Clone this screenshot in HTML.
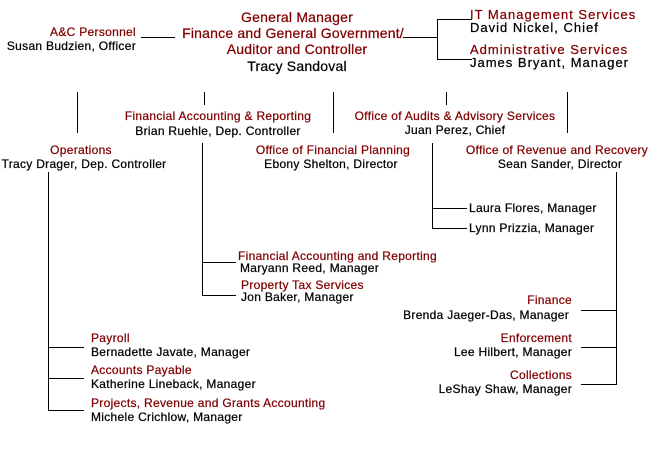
<!DOCTYPE html>
<html><head><meta charset="utf-8"><style>
body{margin:0;background:#fff;}
#c{position:relative;width:650px;height:466px;overflow:hidden;font-family:"Liberation Sans",Arial,sans-serif;font-size:12px;letter-spacing:0.3px;color:#000;-webkit-text-stroke:0.25px;}
.t{position:absolute;white-space:nowrap;line-height:14px;}
.r{color:#800000;}
.cx{transform:translateX(-50%);text-align:center;}
.rx{transform:translateX(-100%);text-align:right;}
.b{font-size:14px;line-height:16px;letter-spacing:0.2px;}
.it{font-size:13px;letter-spacing:1px;}
svg{position:absolute;left:0;top:0;}
</style></head><body><div id="c">
<svg width="650" height="466"><g stroke="#000" stroke-width="1" fill="none" shape-rendering="crispEdges">
<line x1="141" y1="37.5" x2="175" y2="37.5"/>
<line x1="403" y1="37.5" x2="437" y2="37.5"/>
<line x1="437.5" y1="19" x2="437.5" y2="60"/>
<line x1="437" y1="19.5" x2="472" y2="19.5"/>
<line x1="437" y1="59.5" x2="472" y2="59.5"/>
<line x1="77.5" y1="92" x2="77.5" y2="133"/>
<line x1="204.5" y1="92" x2="204.5" y2="105"/>
<line x1="333.5" y1="92" x2="333.5" y2="133"/>
<line x1="446.5" y1="92" x2="446.5" y2="105"/>
<line x1="567.5" y1="92" x2="567.5" y2="133"/>
<line x1="202.5" y1="143" x2="202.5" y2="296"/>
<line x1="202" y1="262.5" x2="236" y2="262.5"/>
<line x1="202" y1="295.5" x2="236" y2="295.5"/>
<line x1="432.5" y1="143" x2="432.5" y2="229"/>
<line x1="432" y1="208.5" x2="467" y2="208.5"/>
<line x1="432" y1="228.5" x2="467" y2="228.5"/>
<line x1="616.5" y1="172" x2="616.5" y2="385"/>
<line x1="581" y1="310.5" x2="617" y2="310.5"/>
<line x1="581" y1="347.5" x2="617" y2="347.5"/>
<line x1="581" y1="384.5" x2="617" y2="384.5"/>
<line x1="48.5" y1="172" x2="48.5" y2="411"/>
<line x1="48" y1="347.5" x2="84" y2="347.5"/>
<line x1="48" y1="378.5" x2="84" y2="378.5"/>
<line x1="48" y1="410.5" x2="84" y2="410.5"/>
</g></svg>
<div class="t r b cx" style="left:297px;top:9px">General Manager</div>
<div class="t r b cx" style="left:293px;top:25px">Finance and General Government/</div>
<div class="t r b cx" style="left:297px;top:41px">Auditor and Controller</div>
<div class="t b cx" style="left:297px;top:58px">Tracy Sandoval</div>
<div class="t r rx" style="left:136px;top:25px">A&amp;C Personnel</div>
<div class="t rx" style="left:136px;top:39px">Susan Budzien, Officer</div>
<div class="t r it" style="left:470px;top:8px">IT Management Services</div>
<div class="t it" style="left:470px;top:21px">David Nickel, Chief</div>
<div class="t r it" style="left:470px;top:43px">Administrative Services</div>
<div class="t it" style="left:470px;top:56px">James Bryant, Manager</div>
<div class="t r cx" style="left:218px;top:109px">Financial Accounting &amp; Reporting</div>
<div class="t cx" style="left:218px;top:124px">Brian Ruehle, Dep. Controller</div>
<div class="t r cx" style="left:455px;top:109px">Office of Audits &amp; Advisory Services</div>
<div class="t cx" style="left:455px;top:123px">Juan Perez, Chief</div>
<div class="t r cx" style="left:81px;top:143px">Operations</div>
<div class="t cx" style="left:84px;top:157px">Tracy Drager, Dep. Controller</div>
<div class="t r cx" style="left:333px;top:143px">Office of Financial Planning</div>
<div class="t cx" style="left:331px;top:157px">Ebony Shelton, Director</div>
<div class="t r cx" style="left:557px;top:143px">Office of Revenue and Recovery</div>
<div class="t cx" style="left:560px;top:157px">Sean Sander, Director</div>
<div class="t" style="left:469px;top:201px">Laura Flores, Manager</div>
<div class="t" style="left:469px;top:221px">Lynn Prizzia, Manager</div>
<div class="t r" style="left:238px;top:249px">Financial Accounting and Reporting</div>
<div class="t" style="left:240px;top:261px">Maryann Reed, Manager</div>
<div class="t r" style="left:241px;top:278px">Property Tax Services</div>
<div class="t" style="left:241px;top:290px">Jon Baker, Manager</div>
<div class="t r rx" style="left:572px;top:293px">Finance</div>
<div class="t rx" style="left:569px;top:308px">Brenda Jaeger-Das, Manager</div>
<div class="t r rx" style="left:572px;top:331px">Enforcement</div>
<div class="t rx" style="left:572px;top:345px">Lee Hilbert, Manager</div>
<div class="t r rx" style="left:572px;top:368px">Collections</div>
<div class="t rx" style="left:572px;top:382px">LeShay Shaw, Manager</div>
<div class="t r" style="left:91px;top:331px">Payroll</div>
<div class="t" style="left:91px;top:345px">Bernadette Javate, Manager</div>
<div class="t r" style="left:91px;top:363px">Accounts Payable</div>
<div class="t" style="left:91px;top:377px">Katherine Lineback, Manager</div>
<div class="t r" style="left:91px;top:396px">Projects, Revenue and Grants Accounting</div>
<div class="t" style="left:91px;top:410px">Michele Crichlow, Manager</div>
</div></body></html>
